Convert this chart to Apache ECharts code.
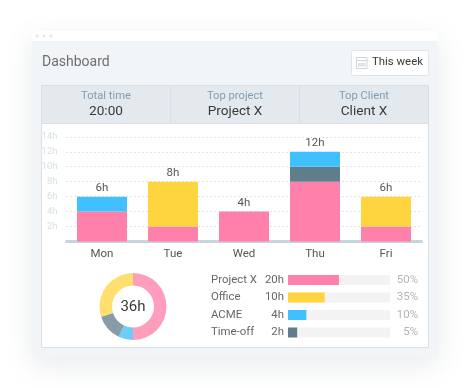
<!DOCTYPE html>
<html>
<head>
<meta charset="utf-8">
<style>html,body{margin:0;padding:0;background:#fff}#c{width:470px;height:388px}</style>
<script src="https://cdn.jsdelivr.net/npm/echarts@6/dist/echarts.min.js"></script>
</head>
<body>
<div id="c"></div>
<script>
const days = ['Mon','Tue','Wed','Thu','Fri'];
const projectX = [4,2,4,8,2];
const office = [0,6,0,0,4];
const timeOff = [0,0,0,2,0];
const acme = [2,0,0,2,0];
const dayTotals = [6,8,4,12,6];
const yTicks = ['14h','12h','10h','8h','6h','4h','2h'];
const donutNames = ['Project X','ACME','Time-off','Office'];
const donutValues = [50,7,13,30];
const donutTotal = '36h';
const rowNames = ['Project X','Office','ACME','Time-off'];
const rowHours = ['20h','10h','4h','2h'];
const rowPct = ['50%','35%','10%','5%'];
const rowFill = [50,36,18,9];
const summaryLabels = ['Total time','Top project','Top Client'];
const summaryValues = ['20:00','Project X','Client X'];

const PINK='#ff80aa', YEL='#ffd53f', BLUE='#40c0ff', SLATE='#607d8b';
const F='Roboto';
const colors=[PINK,YEL,BLUE,SLATE];
const centers=[106,235,364];

const g=[];
g.push({type:'rect',z:-5,shape:{x:32,y:31,width:406,height:326,r:3},style:{fill:'#f2f5f8',shadowBlur:28,shadowColor:'rgba(90,110,130,0.14)',shadowOffsetY:8}});
g.push({type:'rect',z:-4,shape:{x:32,y:31,width:406,height:10,r:[3,3,0,0]},style:{fill:'#fff'}});
[37,44,51].forEach(x=>g.push({type:'circle',z:-3,shape:{cx:x,cy:36,r:1.6},style:{fill:'#e6e6e6'}}));
g.push({type:'text',z:5,style:{x:42,y:62.5,text:'Dashboard',fill:'#6e6e6e',font:'14px '+F,textVerticalAlign:'middle'}});
g.push({type:'rect',z:-3,shape:{x:351.5,y:50.5,width:77,height:25,r:2},style:{fill:'#fff',stroke:'#dfe5ea'}});
g.push({type:'rect',z:-2,shape:{x:356.5,y:57.5,width:10.5,height:11},style:{fill:'#fff',stroke:'#cdd6dc'}});
g.push({type:'rect',z:-2,shape:{x:358,y:63,width:7.5,height:3.5},style:{fill:'#dfe5ea'}});
g.push({type:'line',z:-2,shape:{x1:356.5,y1:60.5,x2:367,y2:60.5},style:{stroke:'#cdd6dc'}});
g.push({type:'text',z:5,style:{x:372,y:62,text:'This week',fill:'#3a3a3a',font:'11.4px '+F,textVerticalAlign:'middle'}});
g.push({type:'rect',z:-3,shape:{x:41.5,y:85.5,width:387,height:262},style:{fill:'#fff',stroke:'#d8e0e6'}});
g.push({type:'rect',z:-2,shape:{x:41.5,y:85.5,width:387,height:38},style:{fill:'#e4e9ed',stroke:'#d8e0e6'}});
[170.5,299.5].forEach(x=>g.push({type:'line',z:-1,shape:{x1:x,y1:86,x2:x,y2:123},style:{stroke:'#d8e0e6'}}));
summaryLabels.forEach((t,i)=>{
  g.push({type:'text',z:5,style:{x:centers[i],y:96,text:t,fill:'#7f9db3',font:'11.2px '+F,textAlign:'center',textVerticalAlign:'middle'}});
  g.push({type:'text',z:5,style:{x:centers[i],y:112,text:summaryValues[i],fill:'#3a3a3a',font:'13.6px '+F,textAlign:'center',textVerticalAlign:'middle'}});
});
g.push({type:'text',z:20,style:{x:133,y:307,text:donutTotal,fill:'#3a3a3a',font:'15px '+F,textAlign:'center',textVerticalAlign:'middle'}});

const mk=(name,data,color)=>({name,type:'bar',stack:'d',xAxisIndex:0,yAxisIndex:0,barWidth:50,data:data.map(v=>v||null),itemStyle:{color}});

const chart=echarts.init(document.getElementById('c'),null,{renderer:'canvas'});
chart.setOption({
  animation:false,
  textStyle:{fontFamily:F},
  graphic:g,
  grid:[
    {left:66.5,top:136.8,width:355,height:104.7},
    {left:288,top:271.25,width:102,height:70}
  ],
  xAxis:[
    {gridIndex:0,type:'category',data:days,offset:1,
     axisLine:{lineStyle:{color:'#c9d5dc',width:3}},axisTick:{show:false},
     axisLabel:{color:'#555',fontSize:11.5,fontFamily:F,margin:6}},
    {gridIndex:1,type:'value',min:0,max:100,show:false}
  ],
  yAxis:[
    {gridIndex:0,type:'value',min:0,max:14,interval:2,
     axisLine:{show:false},axisTick:{show:false},
     axisLabel:{color:'#d6e1e9',fontSize:9.5,fontFamily:F,margin:9,
       formatter:v=>yTicks.includes(v+'h')?v+'h':''},
     splitLine:{lineStyle:{color:'#dcdcdc',type:[1.5,2.5],width:1}}},
    {gridIndex:1,type:'category',inverse:true,data:rowNames,
     axisLine:{show:false},axisTick:{show:false},
     axisLabel:{color:'#666',fontSize:11.4,fontFamily:F,align:'left',margin:77}},
    {gridIndex:1,type:'category',inverse:true,data:rowHours,position:'left',
     axisLine:{show:false},axisTick:{show:false},
     axisLabel:{color:'#666',fontSize:11.4,fontFamily:F,align:'right',margin:4}},
    {gridIndex:1,type:'category',inverse:true,data:rowPct,position:'right',
     axisLine:{show:false},axisTick:{show:false},
     axisLabel:{color:'#b4b4b4',fontSize:11.4,fontFamily:F,align:'right',margin:28}}
  ],
  series:[
    mk('Project X',projectX,PINK),
    mk('Office',office,YEL),
    mk('Time-off',timeOff,SLATE),
    mk('ACME',acme,BLUE),
    {name:'Total',type:'line',xAxisIndex:0,yAxisIndex:0,data:dayTotals,symbol:'circle',symbolSize:1,
     lineStyle:{opacity:0},itemStyle:{color:'transparent'},z:10,
     label:{show:true,position:'top',distance:2,formatter:p=>p.value+'h',color:'#555',fontSize:11.5,fontFamily:F}},
    {type:'bar',xAxisIndex:1,yAxisIndex:1,barWidth:10,barGap:'-100%',silent:true,
     data:rowFill.map(()=>100),itemStyle:{color:'#f3f3f3'}},
    {type:'bar',xAxisIndex:1,yAxisIndex:1,barWidth:10,barGap:'-100%',
     data:rowFill.map((v,i)=>({value:v,itemStyle:{color:colors[i]}}))},
    {type:'pie',center:[133,306.5],radius:[21,33.5],startAngle:90,clockwise:true,
     label:{show:false},labelLine:{show:false},emphasis:{disabled:true},
     data:donutValues.map((v,i)=>({name:donutNames[i],value:v,
       itemStyle:{color:['#ff9dbd','#6bcdfe','#879ca8','#ffdf6e'][i]}}))}
  ]
});
</script>
</body>
</html>
